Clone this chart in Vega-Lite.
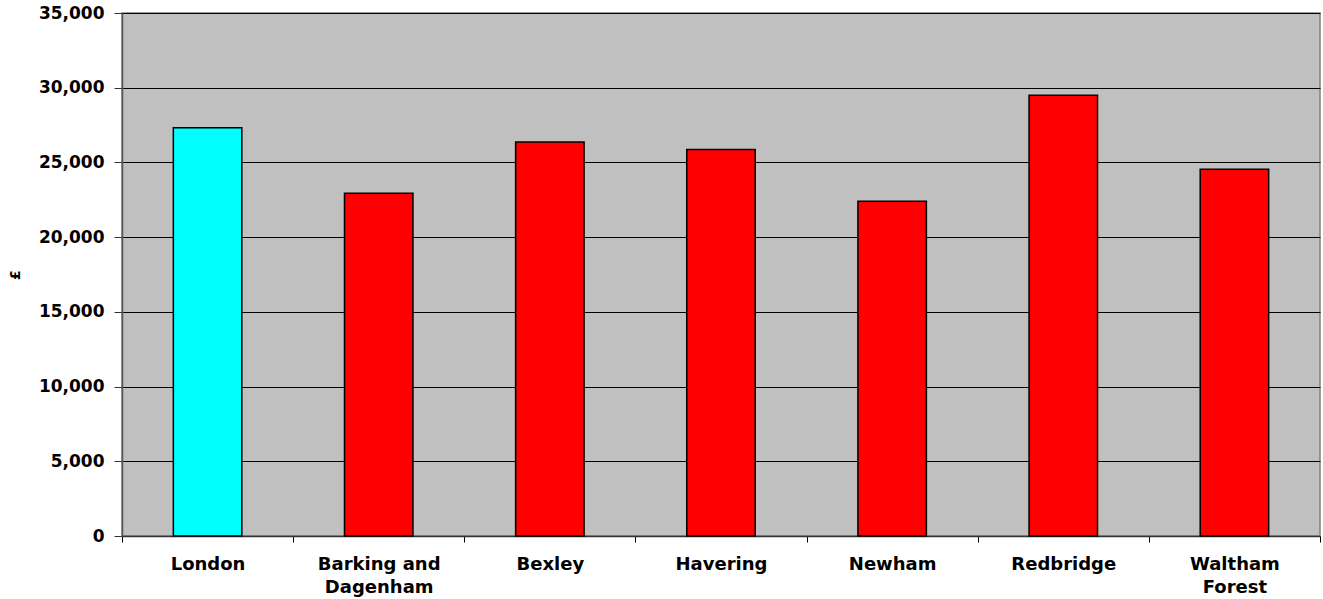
{
  "$schema": "https://vega.github.io/schema/vega-lite/v6.json",
  "width": 1198,
  "height": 523,
  "autosize": {"type": "none"},
  "padding": {"left": 122, "top": 13, "right": 3, "bottom": 63},
  "background": "white",
  "config": {
    "view": {"fill": "#C0C0C0", "stroke": "#808080", "strokeWidth": 1.5},
    "font": "DejaVu Sans"
  },
  "data": {
    "values": [
      {"Area": "London", "Value": 27320},
      {"Area": "Barking and Dagenham", "Value": 22930},
      {"Area": "Bexley", "Value": 26360},
      {"Area": "Havering", "Value": 25870},
      {"Area": "Newham", "Value": 22410},
      {"Area": "Redbridge", "Value": 29490},
      {"Area": "Waltham Forest", "Value": 24550}
    ]
  },
  "mark": {"type": "bar", "width": {"band": 0.4}, "stroke": "#000000", "strokeWidth": 1.5},
  "encoding": {
    "x": {
      "field": "Area",
      "type": "nominal",
      "sort": null,
      "scale": {"paddingInner": 0, "paddingOuter": 0},
      "axis": {
        "title": null,
        "labelAngle": 0,
        "labelFont": "DejaVu Sans",
        "labelFontSize": 18,
        "labelFontWeight": "bold",
        "labelColor": "#000000",
        "labelBaseline": "top",
        "labelPadding": 13,
        "labelLineHeight": 23,
        "labelExpr": "datum.label == 'Barking and Dagenham' ? ['Barking and', 'Dagenham'] : datum.label == 'Waltham Forest' ? ['Waltham', 'Forest'] : datum.label",
        "tickBand": "extent",
        "tickExtra": true,
        "tickSize": 6,
        "tickColor": "#000000",
        "domainColor": "#333333",
        "domainWidth": 1.5,
        "grid": false
      }
    },
    "y": {
      "field": "Value",
      "type": "quantitative",
      "scale": {"domain": [0, 35000], "nice": false},
      "axis": {
        "title": "£",
        "titleFont": "DejaVu Sans",
        "titleFontSize": 14,
        "titleFontWeight": "bold",
        "titleColor": "#000000",
        "titlePadding": 16,
        "values": [0, 5000, 10000, 15000, 20000, 25000, 30000, 35000],
        "format": ",.0f",
        "labelFont": "DejaVu Sans",
        "labelFontSize": 17,
        "labelFontWeight": "bold",
        "labelColor": "#000000",
        "labelPadding": 10,
        "tickSize": 8,
        "tickColor": "#333333",
        "domainColor": "#555555",
        "domainWidth": 1.5,
        "grid": true,
        "gridColor": "#000000",
        "gridWidth": 1.2
      }
    },
    "fill": {
      "condition": {"test": "datum.Area == 'London'", "value": "#00FFFF"},
      "value": "#FF0000"
    }
  }
}
